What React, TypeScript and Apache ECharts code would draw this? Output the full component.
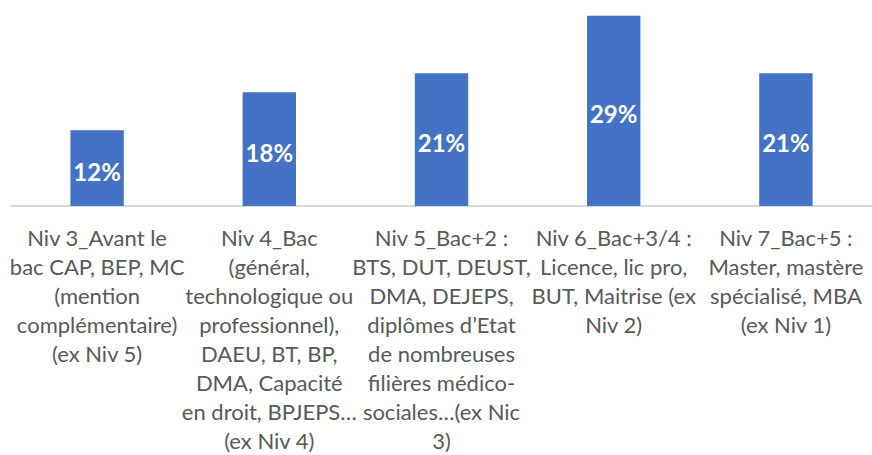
import React, { useEffect, useRef } from "react";
import * as echarts from "echarts";

const categories: string[] = [
  "Niv 3_Avant le\nbac CAP, BEP, MC\n(mention\ncomplémentaire)\n(ex Niv 5)",
  "Niv 4_Bac\n(général,\ntechnologique ou\nprofessionnel),\nDAEU, BT, BP,\nDMA, Capacité\nen droit, BPJEPS…\n(ex Niv 4)",
  "Niv 5_Bac+2 :\nBTS, DUT, DEUST,\nDMA, DEJEPS,\ndiplômes d’Etat\nde nombreuses\nfilières médico-\nsociales…(ex Nic\n3)",
  "Niv 6_Bac+3/4 :\nLicence, lic pro,\nBUT, Maitrise (ex\nNiv 2)",
  "Niv 7_Bac+5 :\nMaster, mastère\nspécialisé, MBA\n(ex Niv 1)",
];

// bar heights (percent)
const values: number[] = [12, 18, 21, 30.1, 21];
// data labels as printed on the bars
const valueLabels: string[] = ["12%", "18%", "21%", "29%", "21%"];

export default function App() {
  const ref = useRef<HTMLDivElement>(null);

  useEffect(() => {
    if (!ref.current) return;
    const chart = echarts.init(ref.current, undefined, { renderer: "svg" });
    chart.setOption({
      animation: false,
      backgroundColor: "#ffffff",
      grid: { left: 11, right: -9, top: 10, bottom: 245, containLabel: false },
      xAxis: {
        type: "category",
        data: categories,
        axisLine: { show: true, lineStyle: { color: "#D9D9D9", width: 2 } },
        axisTick: { show: false },
        axisLabel: {
          interval: 0,
          margin: 17,
          color: "#595959",
          fontFamily: "Lato",
          fontSize: 22,
          lineHeight: 29,
          align: "center",
        },
      },
      yAxis: {
        type: "value",
        min: 0,
        max: 31,
        show: false,
        splitLine: { show: false },
      },
      series: [
        {
          type: "bar",
          data: values,
          barWidth: "31%",
          itemStyle: { color: "#4472C4" },
          label: {
            show: true,
            position: "inside",
            color: "#ffffff",
            fontFamily: "Lato",
            fontWeight: "bold",
            fontSize: 24,
            offset: [0, 3],
            formatter: (p: any) => valueLabels[p.dataIndex],
          },
        },
      ],
    });
    return () => chart.dispose();
  }, []);

  return (
    <div
      ref={ref}
      style={{ position: "fixed", left: 0, top: 0, width: 872, height: 455 }}
    />
  );
}
